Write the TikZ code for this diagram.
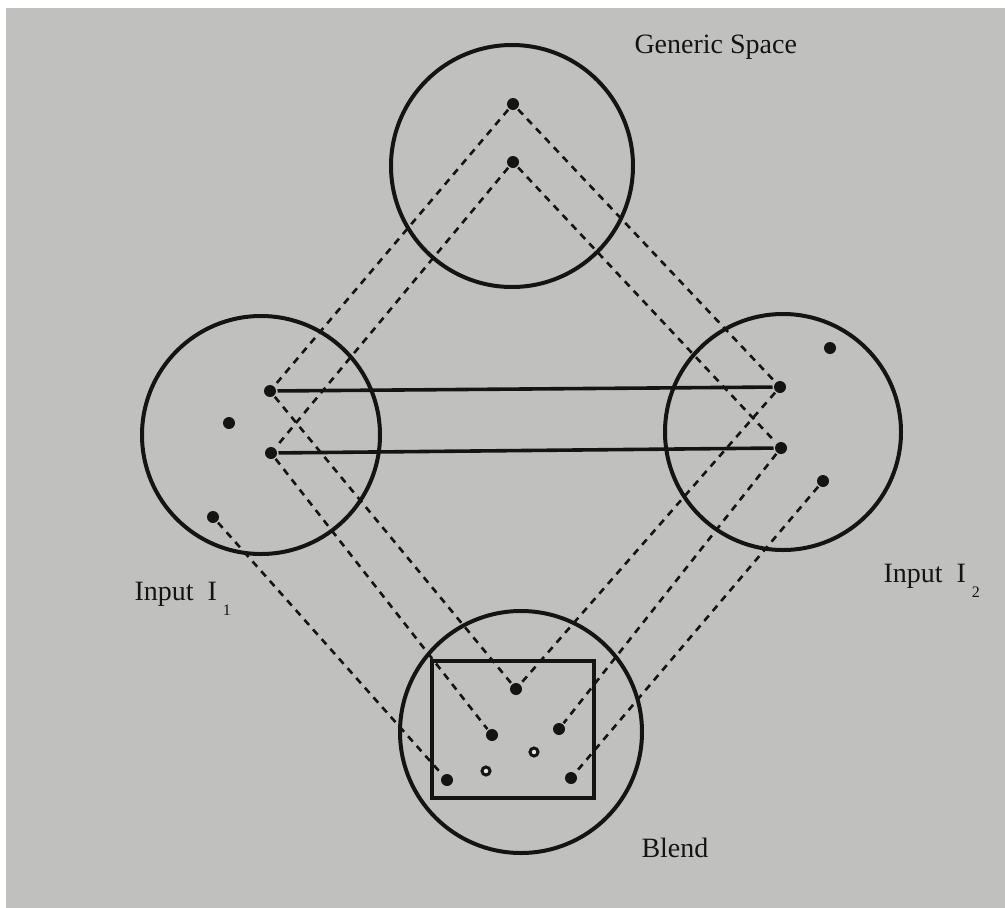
\documentclass[tikz,border=0pt]{standalone}
\usepackage[dvipsnames]{xcolor}
\usepackage{fontspec}
\setmainfont{Liberation Serif}
\definecolor{paper}{RGB}{192,192,190}
\definecolor{ink}{RGB}{20,20,18}

\begin{document}
\begin{tikzpicture}[x=1pt,y=-1pt,line width=3pt,ink,
    space node/.style={circle,draw,line width=4pt,inner sep=0pt},
    dot node/.style={circle,fill,inner sep=0pt,minimum size=12pt},
    hollow node/.style={circle,draw,line width=3pt,fill=white!60!paper,inner sep=0pt,minimum size=8pt},
    frame node/.style={draw,line width=3.6pt,inner sep=0pt,minimum width=162pt,minimum height=137pt},
    label node/.style={anchor=base west,inner sep=0pt,font=\fontsize{28}{30}\selectfont}]
                \useasboundingbox (0,0) rectangle (1005,908);
                \fill[white] (0,0) rectangle (1005,908);
                \fill[paper] (6,8) rectangle (1005,908);

                % spaces
                \node[space node, minimum size=242pt] (G) at (512,166) {};
                \node[space node, minimum size=238pt] (I1) at (261,435) {};
                \node[space node, minimum size=236pt] (I2) at (783,432) {};
                \node[space node, minimum size=242pt] (B) at (521,732) {};
                \node[frame node] (frame) at (513,729.5) {};

                % elements
                \node[dot node] (g1) at (513,104) {};
                \node[dot node] (g2) at (513,162) {};
                \node[dot node] (a1) at (270,391) {};
                \node[dot node] (a2) at (271,453) {};
                \node[dot node] (a3) at (229,423) {};
                \node[dot node] (a4) at (213,517) {};
                \node[dot node] (b1) at (780,387) {};
                \node[dot node] (b2) at (781,448) {};
                \node[dot node] (b3) at (830,348) {};
                \node[dot node] (b4) at (823,481) {};
                \node[dot node] (c1) at (516,689) {};
                \node[dot node] (c2) at (492,735) {};
                \node[dot node] (c3) at (559,729) {};
                \node[hollow node] (c4) at (534,752) {};
                \node[hollow node] (c5) at (486,771) {};
                \node[dot node] (c6) at (447,780) {};
                \node[dot node] (c7) at (571,778) {};

                % labels
                \node[label node] (lg) at (633,53) {Generic Space};
                \node[label node] (l1) at (133,600) {Input\ \ I\hspace{6pt}\raisebox{-15pt}{\fontsize{16}{16}\selectfont 1}};
                \node[label node] (l2) at (882,582) {Input\ \ I\hspace{6pt}\raisebox{-15pt}{\fontsize{16}{16}\selectfont 2}};
                \node[label node] (lb) at (640,857) {Blend};

                \path[line width=3.6pt]
                    (a1) edge (b1)
                    (a2) edge (b2)
                    ;
                \path[line width=2.6pt,dash pattern=on 7pt off 6pt]
                    (g1) edge (a1)
                    (g2) edge (a2)
                    (g1) edge (b1)
                    (g2) edge (b2)
                    (a1) edge (c1)
                    (a2) edge (c2)
                    (a4) edge (c6)
                    (b1) edge (c1)
                    (b2) edge (c3)
                    (b4) edge (c7)
                    ;
            \end{tikzpicture}
\end{document}
